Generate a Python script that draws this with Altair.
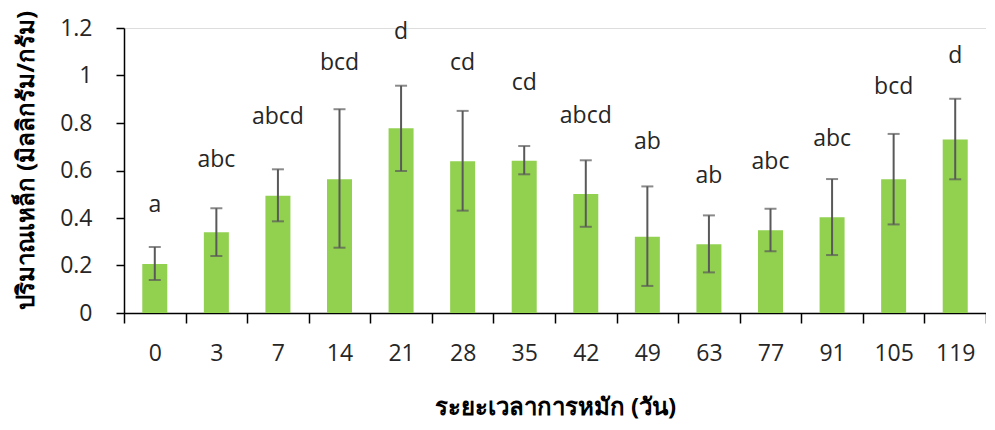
import altair as alt
import pandas as pd

days = ["0", "3", "7", "14", "21", "28", "35", "42", "49", "63", "77", "91", "105", "119"]
means = [0.206, 0.340, 0.494, 0.563, 0.778, 0.639, 0.641, 0.501, 0.321, 0.289, 0.348, 0.403, 0.563, 0.731]
err_hi = [0.278, 0.441, 0.605, 0.858, 0.957, 0.851, 0.703, 0.643, 0.533, 0.411, 0.439, 0.564, 0.754, 0.902]
err_lo = [0.139, 0.240, 0.386, 0.275, 0.598, 0.431, 0.584, 0.363, 0.114, 0.171, 0.260, 0.244, 0.373, 0.563]
letters = ["a", "abc", "abcd", "bcd", "d", "cd", "cd", "abcd", "ab", "ab", "abc", "abc", "bcd", "d"]
letter_y = [0.427, 0.616, 0.796, 1.023, 1.152, 1.023, 0.939, 0.801, 0.691, 0.546, 0.605, 0.703, 0.921, 1.054]

df = pd.DataFrame({
    "day": days, "mean": means, "hi": err_hi, "lo": err_lo,
    "letter": letters, "ly": letter_y,
})

FONT = "Open Sans"
x = alt.X("day:N", sort=days, title="ระยะเวลาการหมัก (วัน)",
          scale=alt.Scale(paddingInner=0, paddingOuter=0),
          axis=alt.Axis(labelAngle=0, tickBand="extent", tickSize=10, tickColor="black",
                        domainColor="black", domainWidth=1.5, tickWidth=1.5,
                        labelFontSize=23, labelPadding=19, labelColor="#262626",
                        labelFont=FONT, titleFont=FONT, titleFontSize=24, titleFontWeight="bold",
                        titleColor="black", titlePadding=30))
yscale = alt.Scale(domain=[0, 1.2], nice=False)
yaxis = alt.Axis(values=[0, 0.2, 0.4, 0.6, 0.8, 1.0, 1.2], format="~g", grid=False,
                 tickSize=8, tickColor="black", domainColor="black", domainWidth=1.5, tickWidth=1.5,
                 labelFontSize=23, labelPadding=24, labelColor="#262626", labelFont=FONT,
                 title="ปริมาณเหล็ก (มิลลิกรัม/กรัม)", titleFont=FONT, titleFontSize=24,
                 titleFontWeight="bold", titleColor="black", titleX=-98, titleY=132,
                 titleAngle=-90, titleAlign="center", titleBaseline="middle")

base = alt.Chart(df)
bars = base.mark_bar(color="#92D050", size=25).encode(
    x=x, y=alt.Y("mean:Q", scale=yscale, axis=yaxis))
rule = base.mark_rule(color="#595959", strokeWidth=2).encode(
    x=alt.X("day:N", sort=days), y=alt.Y("lo:Q", scale=yscale), y2="hi:Q")
cap_hi = base.mark_tick(color="#595959", size=12, thickness=2).encode(
    x=alt.X("day:N", sort=days), y=alt.Y("hi:Q", scale=yscale))
cap_lo = base.mark_tick(color="#595959", size=12, thickness=2).encode(
    x=alt.X("day:N", sort=days), y=alt.Y("lo:Q", scale=yscale))
text = base.mark_text(fontSize=23, font=FONT, color="#262626", baseline="alphabetic").encode(
    x=alt.X("day:N", sort=days), y=alt.Y("ly:Q", scale=yscale), text="letter:N")

chart = alt.layer(bars, rule, cap_hi, cap_lo, text).properties(
    width=862, height=285,
    autosize=alt.AutoSizeParams(type="none"),
    padding={"left": 116, "top": 20, "right": 0, "bottom": 109},
).configure_view(stroke=None).configure(background="white")

chart.save("out.html", embed_options={"renderer": "svg", "actions": False})
